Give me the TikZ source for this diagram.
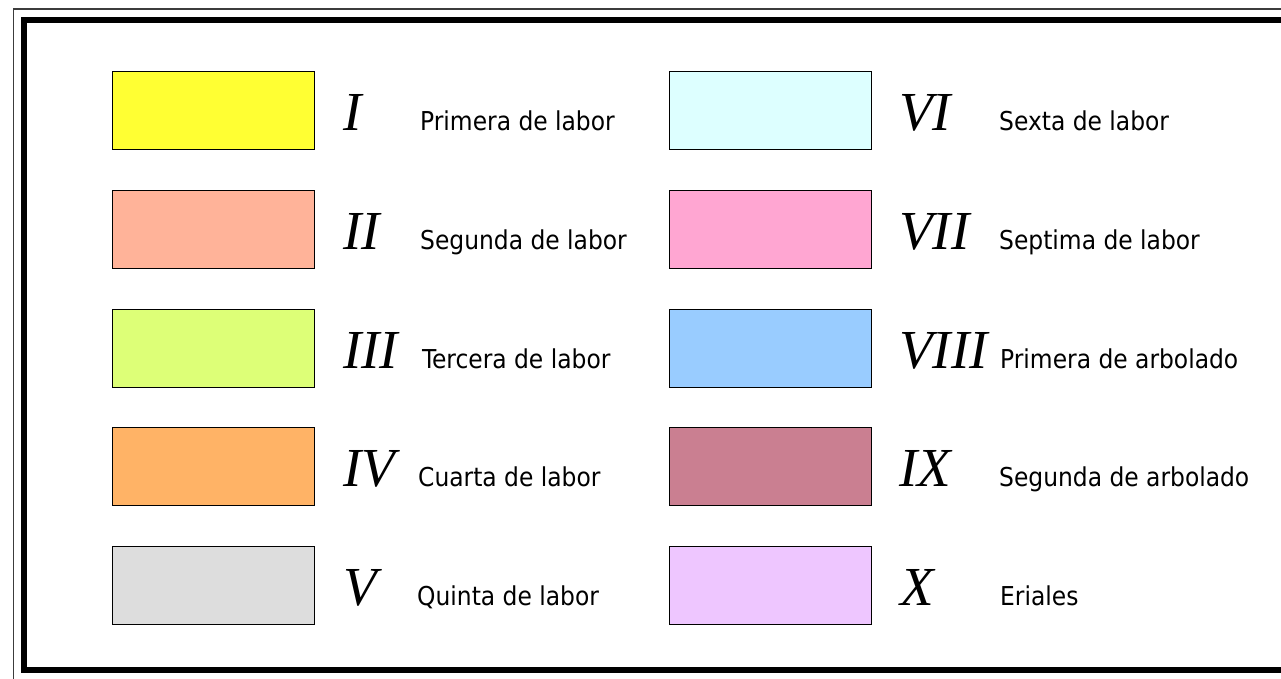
\documentclass[tikz,border=0pt]{standalone}
\usepackage{fontspec}
\setmainfont{Liberation Serif}
\newfontfamily\labelfont{DejaVu Sans Condensed}
\usepackage{tikz}
\usetikzlibrary{positioning}

\definecolor{cI}{RGB}{255,255,51}
\definecolor{cII}{RGB}{255,179,153}
\definecolor{cIII}{RGB}{221,255,119}
\definecolor{cIV}{RGB}{255,179,102}
\definecolor{cV}{RGB}{221,221,221}
\definecolor{cVI}{RGB}{221,255,255}
\definecolor{cVII}{RGB}{255,166,210}
\definecolor{cVIII}{RGB}{153,204,255}
\definecolor{cIX}{RGB}{202,127,145}
\definecolor{cX}{RGB}{238,198,255}
\definecolor{frame}{RGB}{60,60,60}

\begin{document}
\begin{tikzpicture}[x=1pt,y=-1pt]
\tikzset{B/.style={rectangle,draw=black,line width=1pt,minimum width=202pt,minimum height=78pt,inner sep=0pt},
         N/.style={anchor=base west,inner sep=0pt,font=\fontsize{55}{60}\selectfont\itshape},
         L/.style={anchor=base west,inner sep=0pt,font=\fontsize{26}{30}\selectfont\labelfont}}

  \useasboundingbox (0,0) rectangle (1281,679);
  \clip (0,0) rectangle (1281,679);
  \fill[white] (0,0) rectangle (1281,679);

  % frames
  \draw[frame,line width=1.5pt] (13.5,9) rectangle (1300,700);
  \draw[black,line width=6pt] (23.5,20) rectangle (1292,670);

  % left column
  \node[B,fill=cI]   (b1) at (213,111) {};
  \node[B,fill=cII]  (b2) at (213,229) {};
  \node[B,fill=cIII] (b3) at (213,348) {};
  \node[B,fill=cIV]  (b4) at (213,466) {};
  \node[B,fill=cV]   (b5) at (213,585) {};

  \node[N] (n1) at (343,131) {I};
  \node[N] (n2) at (343,249) {II};
  \node[N] (n3) at (343,368) {III};
  \node[N] (n4) at (343,486) {IV};
  \node[N] (n5) at (343,605) {V};

  \node[L] (l1) at (420,131) {Primera de labor};
  \node[L] (l2) at (420,249) {Segunda de labor};
  \node[L] (l3) at (422,368) {Tercera de labor};
  \node[L] (l4) at (418,486) {Cuarta de labor};
  \node[L] (l5) at (417,605) {Quinta de labor};

  % right column
  \node[B,fill=cVI]   (b6)  at (770,111) {};
  \node[B,fill=cVII]  (b7)  at (770,229) {};
  \node[B,fill=cVIII] (b8)  at (770,348) {};
  \node[B,fill=cIX]   (b9)  at (770,466) {};
  \node[B,fill=cX]    (b10) at (770,585) {};

  \node[N] (n6)  at (899,131) {VI};
  \node[N] (n7)  at (899,249) {VII};
  \node[N] (n8)  at (899,368) {VIII};
  \node[N] (n9)  at (899,486) {IX};
  \node[N] (n10) at (900,605) {X};

  \node[L] (l6)  at (999,131) {Sexta de labor};
  \node[L] (l7)  at (999,249) {Septima de labor};
  \node[L] (l8)  at (1000,368) {Primera de arbolado};
  \node[L] (l9)  at (999,486) {Segunda de arbolado};
  \node[L] (l10) at (1000,605) {Eriales};
\end{tikzpicture}
\end{document}
